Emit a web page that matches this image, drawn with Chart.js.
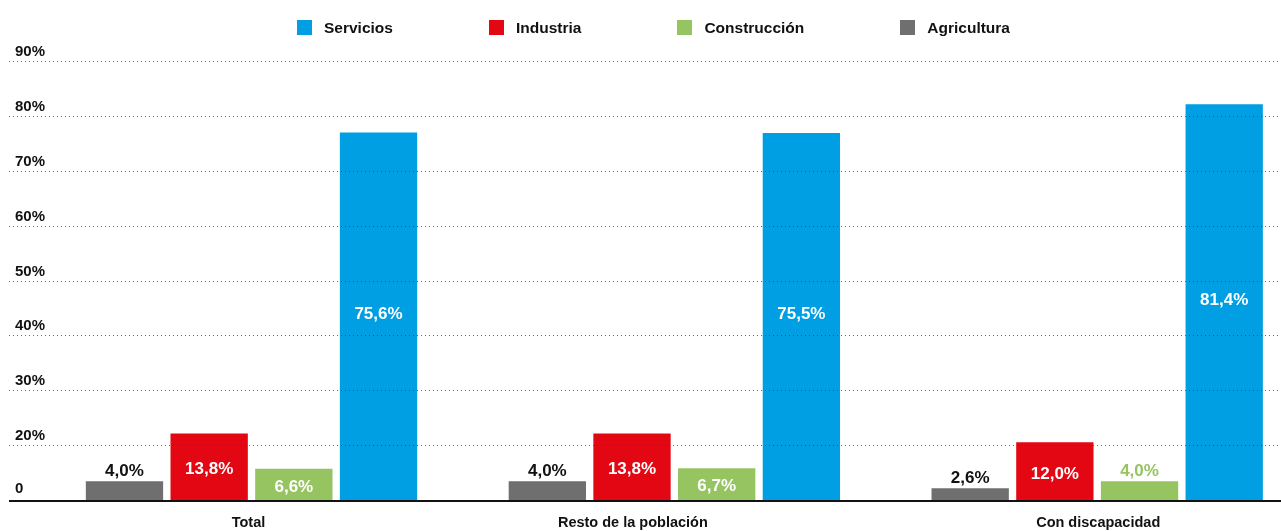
<!DOCTYPE html>
<html lang="es">
<head>
<meta charset="utf-8">
<title>Ocupados por sector de actividad</title>
<script src="https://cdn.jsdelivr.net/npm/chart.js@4.4.1/dist/chart.umd.min.js"></script>
<style>
  html, body { margin: 0; padding: 0; background: #fff; }
  #wrap { position: relative; width: 1281px; height: 531px; overflow: hidden; }
  #legend {
    position: absolute; left: 297px; top: 19.5px;
    display: flex; gap: 96px;
    font: bold 15.5px "Liberation Sans", Arial, sans-serif; color: #111;
  }
  #legend .item { display: flex; align-items: center; line-height: 15px; white-space: nowrap; }
  #legend .box { width: 15px; height: 15px; margin-right: 12px; }
</style>
</head>
<body>
<div id="wrap">
  <canvas id="sectorChart"></canvas>
  <div id="legend"></div>
</div>
<script>
const categories = ['Total', 'Resto de la población', 'Con discapacidad'];
const agricultura = [4.0, 4.0, 2.6];
const industria = [13.8, 13.8, 12.0];
const construccion = [6.6, 6.7, 4.0];
const servicios = [75.6, 75.5, 81.4];
const yTickLabels = ['0', '20%', '30%', '40%', '50%', '60%', '70%', '80%', '90%'];
const legendOrder = ['Servicios', 'Industria', 'Construcción', 'Agricultura'];
const yMax = 90;

const FONT = '"Liberation Sans", Arial, sans-serif';
const INK = '#111';
// horizontal nudge of each category caption
const captionShift = [-3, -41.5, 1];

const datasets = [
  { label: 'Agricultura', data: agricultura, backgroundColor: '#706f6f', outsideColor: INK },
  { label: 'Industria', data: industria, backgroundColor: '#e30613', outsideColor: '#e30613' },
  { label: 'Construcción', data: construccion, backgroundColor: '#95c461', outsideColor: '#95c461' },
  { label: 'Servicios', data: servicios, backgroundColor: '#009ee2', outsideColor: '#009ee2', lift: 5 }
].map(ds => Object.assign(ds, { borderWidth: 0, clip: false }));

function fmt(v) {
  return v.toFixed(1).replace('.', ',') + '%';
}

// dotted grid + y labels, drawn over the bars
const gridPlugin = {
  id: 'sectorGrid',
  afterDatasetsDraw(chart) {
    const { ctx, scales: { y } } = chart;
    const step = yMax / (yTickLabels.length - 1);
    ctx.save();
    yTickLabels.forEach((label, i) => {
      const py = Math.round(y.getPixelForValue(i * step));
      ctx.beginPath();
      if (i === 0) {
        ctx.setLineDash([]);
        ctx.lineWidth = 2;
        ctx.strokeStyle = INK;
        ctx.moveTo(9, py);
      } else {
        ctx.setLineDash([1, 3]);
        ctx.lineWidth = 1;
        ctx.strokeStyle = 'rgba(60,60,60,0.75)';
        ctx.moveTo(9, py - 0.5);
      }
      ctx.lineTo(chart.width, i === 0 ? py : py - 0.5);
      ctx.stroke();

      ctx.fillStyle = INK;
      ctx.font = 'bold 15px ' + FONT;
      ctx.textAlign = 'left';
      ctx.textBaseline = 'alphabetic';
      ctx.fillText(label, 15, py - (i === 0 ? 8 : 6));
    });
    ctx.restore();
  }
};

// value labels: inside the bar when it is tall enough, above it otherwise
const valuePlugin = {
  id: 'sectorValues',
  afterDatasetsDraw(chart) {
    const { ctx } = chart;
    ctx.save();
    ctx.font = 'bold 17px ' + FONT;
    ctx.textAlign = 'center';
    ctx.textBaseline = 'alphabetic';
    chart.data.datasets.forEach((ds, di) => {
      chart.getDatasetMeta(di).data.forEach((bar, i) => {
        const h = bar.base - bar.y;
        const text = fmt(ds.data[i]);
        if (h > 25) {
          ctx.fillStyle = '#fff';
          ctx.fillText(text, bar.x, bar.y + h / 2 + 7 - (ds.lift || 0));
        } else {
          ctx.fillStyle = ds.outsideColor;
          ctx.fillText(text, bar.x, bar.y - 5);
        }
      });
    });
    ctx.restore();
  }
};

const captionPlugin = {
  id: 'sectorCaptions',
  afterDraw(chart) {
    const { ctx, scales: { x } } = chart;
    ctx.save();
    ctx.font = 'bold 14.5px ' + FONT;
    ctx.fillStyle = INK;
    ctx.textAlign = 'center';
    ctx.textBaseline = 'alphabetic';
    categories.forEach((c, i) => {
      ctx.fillText(c, x.getPixelForValue(i) + captionShift[i], 527);
    });
    ctx.restore();
  }
};

const sectorChart = new Chart(document.getElementById('sectorChart'), {
  type: 'bar',
  data: { labels: categories, datasets: datasets },
  options: {
    responsive: true,
    maintainAspectRatio: false,
    animation: false,
    categoryPercentage: 0.801,
    barPercentage: 0.913,
    layout: { padding: { left: 251.5, right: 183.8, top: 62.3, bottom: 30.2 } },
    scales: {
      x: { type: 'category', offset: false, display: false },
      y: { min: 0, max: yMax, display: false }
    },
    plugins: {
      legend: { display: false },
      tooltip: { enabled: false }
    }
  },
  plugins: [gridPlugin, valuePlugin, captionPlugin]
});

// legend row
const legendEl = document.getElementById('legend');
legendOrder.forEach(name => {
  const ds = datasets.find(d => d.label === name);
  const item = document.createElement('div');
  item.className = 'item';
  const box = document.createElement('span');
  box.className = 'box';
  box.style.background = ds.backgroundColor;
  const txt = document.createElement('span');
  txt.textContent = ds.label;
  item.appendChild(box);
  item.appendChild(txt);
  legendEl.appendChild(item);
});
</script>
</body>
</html>
